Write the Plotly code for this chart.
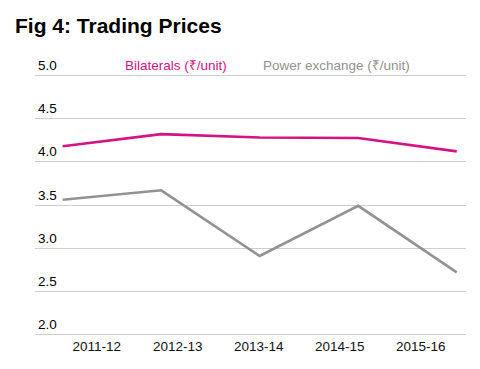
import plotly.graph_objects as go

years = ["2011-12", "2012-13", "2013-14", "2014-15", "2015-16"]
bilaterals = [4.18, 4.32, 4.28, 4.275, 4.12]
power_exchange = [3.56, 3.67, 2.91, 3.49, 2.72]
y_ticks = [2.0, 2.5, 3.0, 3.5, 4.0, 4.5, 5.0]
series_names = ["Bilaterals (₹/unit)", "Power exchange (₹/unit)"]

MAGENTA = "#D31285"
GRAY = "#929292"
FONT = "Liberation Sans, Arial, sans-serif"

# page body has an 8px default margin, so the figure is sized to fit the window
W, H = 472, 361

idx = list(range(len(years)))

fig = go.Figure()
fig.add_trace(go.Scatter(x=idx, y=bilaterals, mode="lines", name=series_names[0],
                         line=dict(color=MAGENTA, width=2.6), hoverinfo="skip"))
fig.add_trace(go.Scatter(x=idx, y=power_exchange, mode="lines", name=series_names[1],
                         line=dict(color=GRAY, width=2.6), hoverinfo="skip"))
# invisible trace so the label axis is drawn
fig.add_trace(go.Scatter(x=idx, y=[None] * len(idx), xaxis="x2", mode="lines",
                         showlegend=False, hoverinfo="skip"))

fig.update_layout(
    width=W, height=H,
    margin=dict(l=27, r=14, t=66, b=33, autoexpand=False),
    paper_bgcolor="white", plot_bgcolor="white",
    showlegend=False,
    font=dict(family=FONT, color="black"),
    title=dict(text="<b>Fig 4: Trading Prices</b>", x=7 / W, xref="container", xanchor="left",
               y=1 - 18 / H, yref="container", yanchor="middle",
               font=dict(family=FONT, size=21, color="black")),
    xaxis=dict(range=[-0.281, 4.094], showticklabels=False, showgrid=False,
               zeroline=False, showline=False, ticks="", automargin=False),
    xaxis2=dict(overlaying="x", side="bottom", anchor="y", type="linear",
                range=[-0.762, 4.559], tickvals=idx, ticktext=years,
                showgrid=False, zeroline=False, showline=False, ticks="",
                automargin=False, ticklabelstandoff=0,
                tickfont=dict(family=FONT, size=13.5, color="#111111")),
    yaxis=dict(range=[1.985, 5.015], tickvals=y_ticks, showticklabels=False,
               showgrid=True, gridcolor="#CFCFCF", gridwidth=1.2, zeroline=False,
               showline=False, ticks="", automargin=False),
)

for v in y_ticks:
    fig.add_annotation(text=f"{v:.1f}", xref="paper", yref="y", x=0, y=v,
                       xanchor="left", yanchor="middle", xshift=1, yshift=10,
                       showarrow=False, font=dict(family=FONT, size=13.5, color="black"))

fig.add_annotation(text=series_names[0], xref="paper", yref="y", x=0.2042, y=y_ticks[-1],
                   xanchor="left", yanchor="middle", yshift=10, showarrow=False,
                   font=dict(family=FONT, size=13.5, color=MAGENTA))
fig.add_annotation(text=series_names[1], xref="paper", yref="y", x=0.5251, y=y_ticks[-1],
                   xanchor="left", yanchor="middle", yshift=10, showarrow=False,
                   font=dict(family=FONT, size=13.5, color=GRAY))

fig.write_html("out.html")
